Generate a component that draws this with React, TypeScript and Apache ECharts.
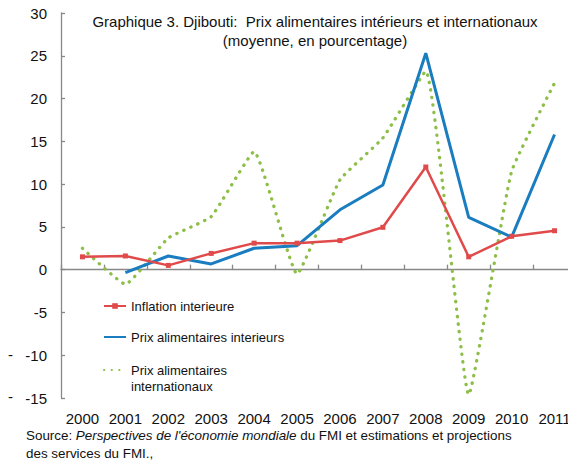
import React, { useEffect, useRef } from "react";
import * as echarts from "echarts";

const years = ["2000", "2001", "2002", "2003", "2004", "2005", "2006", "2007", "2008", "2009", "2010", "2011"];
const inflationInterieure = [1.5, 1.6, 0.5, 1.9, 3.1, 3.1, 3.4, 4.95, 12.0, 1.5, 3.9, 4.55];
const prixInterieurs = [null, -0.35, 1.6, 0.67, 2.5, 2.8, 7.0, 9.9, 25.3, 6.1, 3.8, 15.8];
const prixInternationaux = [2.5, -1.7, 3.7, 6.2, 13.8, -0.5, 10.5, 15.4, 23.2, -14.6, 11.5, 21.8];
const yTicks = { min: -15, max: 30, interval: 5 };

const names = ["Inflation interieure", "Prix alimentaires interieurs", "Prix alimentaires internationaux"];
const colors = ["#E04A4A", "#1A7DC0", "#8DBE48"];

const FONT = "Liberation Sans, Arial, sans-serif";

export default function App() {
  const ref = useRef<HTMLDivElement>(null);
  useEffect(() => {
    const chart = echarts.init(ref.current!, null, { renderer: "svg" });
    const hiddenSymbol = { color: "transparent", borderWidth: 0, opacity: 0 };
    chart.setOption({
      animation: false,
      textStyle: { fontFamily: FONT },
      grid: { left: 61, right: -8, top: 13, bottom: 64, containLabel: false },
      xAxis: [
        {
          type: "category",
          data: years,
          position: "bottom",
          boundaryGap: true,
          axisLine: { show: false, onZero: false },
          axisTick: { show: false },
          axisLabel: { color: "#111", fontSize: 15, fontFamily: FONT, margin: 13, interval: 0 },
          splitLine: { show: false },
        },
        {
          type: "category",
          data: years,
          position: "bottom",
          boundaryGap: true,
          axisLine: { show: true, onZero: true, lineStyle: { color: "#888", width: 1.3 } },
          axisTick: { show: true, inside: true, length: 5, lineStyle: { color: "#888", width: 1.3 } },
          axisLabel: { show: false },
          splitLine: { show: false },
        },
      ],
      yAxis: {
        type: "value",
        min: yTicks.min,
        max: yTicks.max,
        interval: yTicks.interval,
        axisLine: { show: true, lineStyle: { color: "#888", width: 1.3 } },
        axisTick: { show: true, inside: true, length: 4, lineStyle: { color: "#888", width: 1.3 } },
        axisLabel: { color: "#111", fontSize: 15, fontFamily: FONT, margin: 14 },
        splitLine: { show: false },
      },
      legend: [
        {
          orient: "vertical",
          left: 103,
          top: 298,
          padding: 0,
          itemWidth: 22,
          itemHeight: 7,
          itemGap: 15,
          textStyle: { fontSize: 13, color: "#111", fontFamily: FONT, lineHeight: 16 },
          data: [
            { name: names[0] },
            { name: names[1], itemStyle: hiddenSymbol },
          ],
        },
        {
          orient: "vertical",
          left: 103,
          top: 346,
          padding: 0,
          itemWidth: 22,
          itemHeight: 7,
          textStyle: { fontSize: 13, color: "#111", fontFamily: FONT, lineHeight: 16 },
          data: [{ name: names[2], itemStyle: hiddenSymbol }],
          formatter: () => "\nPrix alimentaires\ninternationaux",
        },
      ],
      series: [
        {
          name: names[0],
          type: "line",
          data: inflationInterieure,
          color: colors[0],
          symbol: "rect",
          symbolSize: 5,
          lineStyle: { width: 2.5, color: colors[0] },
          itemStyle: { color: colors[0] },
          z: 4,
        },
        {
          name: names[1],
          type: "line",
          data: prixInterieurs,
          color: colors[1],
          showSymbol: false,
          symbol: "none",
          lineStyle: { width: 3, color: colors[1] },
          z: 3,
        },
        {
          name: names[2],
          type: "line",
          data: prixInternationaux,
          color: colors[2],
          showSymbol: false,
          symbol: "none",
          smooth: 0.12,
          lineStyle: { width: 3.3, color: colors[2], type: [0.3, 7.3], cap: "round" },
          z: 2,
        },
      ],
      graphic: [
        {
          type: "text",
          x: 315,
          y: 12,
          style: {
            text: "Graphique 3. Djibouti:  Prix alimentaires intérieurs et internationaux\n(moyenne, en pourcentage)",
            textAlign: "center",
            fontSize: 15,
            lineHeight: 19,
            fontFamily: FONT,
            fill: "#111",
          },
        },
        {
          type: "text",
          x: 26,
          y: 427,
          style: {
            text: "{n|Source: }{i|Perspectives de l'économie mondiale}{n| du FMI et estimations et projections}\n{n|des services du FMI.,}",
            rich: {
              n: { fontSize: 13.4, fontFamily: FONT, fill: "#111", lineHeight: 17.5 },
              i: { fontSize: 13.4, fontFamily: FONT, fontStyle: "italic", fill: "#111", lineHeight: 17.5 },
            },
            fontSize: 13.4,
            lineHeight: 17.5,
            fontFamily: FONT,
            fill: "#111",
          },
        },
        { type: "text", x: 8, y: 347, style: { text: "-", fontSize: 15, fontFamily: FONT, fill: "#111" } },
        { type: "text", x: 8, y: 389, style: { text: "-", fontSize: 15, fontFamily: FONT, fill: "#111" } },
      ],
    });
    return () => chart.dispose();
  }, []);
  return <div ref={ref} style={{ width: 576, height: 462, marginLeft: -8, marginTop: -8 }} />;
}
